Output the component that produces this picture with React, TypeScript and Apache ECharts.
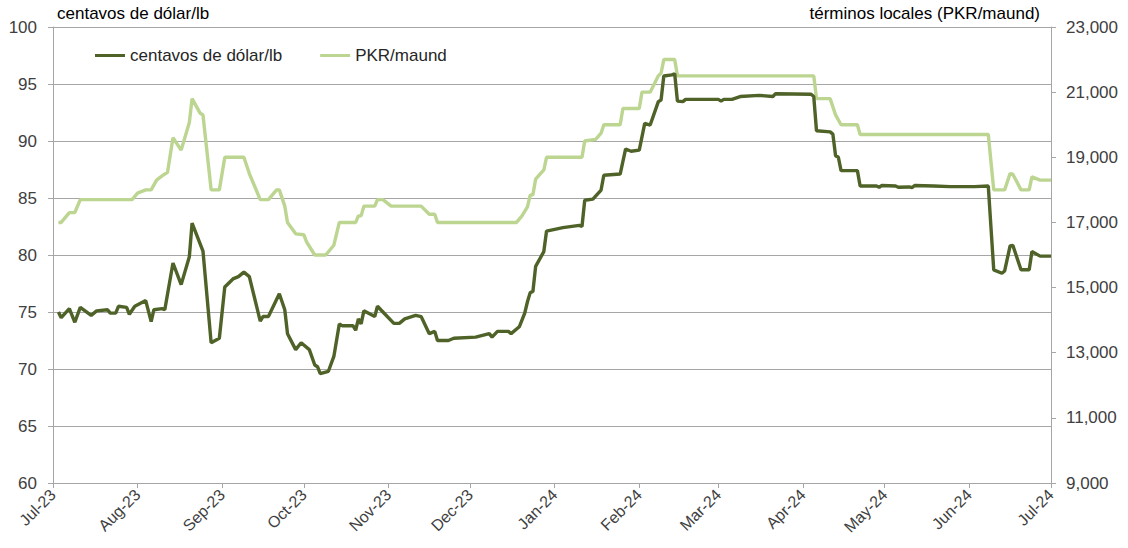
import React, { useEffect, useRef } from "react";
import * as echarts from "echarts";

const MONTHS = ["Jan", "Feb", "Mar", "Apr", "May", "Jun", "Jul", "Aug", "Sep", "Oct", "Nov", "Dec"];

const startDate = "2023-07-01";
const endDate = "2024-07-01";

const centsDates = [
  "2023-07-03", "2023-07-04", "2023-07-07", "2023-07-09", "2023-07-11", "2023-07-15", "2023-07-17",
  "2023-07-21", "2023-07-22", "2023-07-24", "2023-07-25", "2023-07-28", "2023-07-29", "2023-07-31",
  "2023-08-04", "2023-08-06", "2023-08-07", "2023-08-10", "2023-08-11", "2023-08-14", "2023-08-17",
  "2023-08-20", "2023-08-21", "2023-08-25", "2023-08-28", "2023-08-31", "2023-09-02", "2023-09-05",
  "2023-09-07", "2023-09-09", "2023-09-11", "2023-09-15", "2023-09-16", "2023-09-18", "2023-09-22",
  "2023-09-24", "2023-09-25", "2023-09-28", "2023-09-30", "2023-10-03", "2023-10-05", "2023-10-06",
  "2023-10-07", "2023-10-10", "2023-10-12", "2023-10-14", "2023-10-15", "2023-10-19", "2023-10-20",
  "2023-10-21", "2023-10-22", "2023-10-23", "2023-10-27", "2023-10-28", "2023-10-30", "2023-11-03",
  "2023-11-05", "2023-11-07", "2023-11-11", "2023-11-13", "2023-11-16", "2023-11-18", "2023-11-19",
  "2023-11-23", "2023-11-25", "2023-12-03", "2023-12-08", "2023-12-09", "2023-12-11", "2023-12-15",
  "2023-12-16", "2023-12-19", "2023-12-21", "2023-12-22", "2023-12-23", "2023-12-24", "2023-12-25",
  "2023-12-28", "2023-12-29", "2024-01-04", "2024-01-10", "2024-01-11", "2024-01-12", "2024-01-15",
  "2024-01-18", "2024-01-19", "2024-01-25", "2024-01-27", "2024-01-29", "2024-02-01", "2024-02-03",
  "2024-02-05", "2024-02-08", "2024-02-09", "2024-02-10", "2024-02-13", "2024-02-14", "2024-02-15",
  "2024-02-17", "2024-02-18", "2024-03-01", "2024-03-02", "2024-03-03", "2024-03-06", "2024-03-09",
  "2024-03-16", "2024-03-21", "2024-03-22", "2024-04-04", "2024-04-05", "2024-04-06", "2024-04-11",
  "2024-04-12", "2024-04-13", "2024-04-14", "2024-04-15", "2024-04-21", "2024-04-22", "2024-04-28",
  "2024-04-29", "2024-04-30", "2024-05-05", "2024-05-06", "2024-05-10", "2024-05-11", "2024-05-12",
  "2024-05-19", "2024-05-25", "2024-06-03", "2024-06-08", "2024-06-10", "2024-06-13", "2024-06-14",
  "2024-06-16", "2024-06-17", "2024-06-20", "2024-06-23", "2024-06-24", "2024-06-27", "2024-07-01",
];
const centsValues = [
  75.0, 74.5, 75.3, 74.1, 75.4, 74.7, 75.1,
  75.2, 74.9, 74.9, 75.5, 75.4, 74.8, 75.5,
  76.0, 74.15, 75.2, 75.3, 75.2, 79.3, 77.4,
  79.85, 82.8, 80.35, 72.3, 72.7, 77.2, 77.9,
  78.1, 78.5, 78.1, 74.2, 74.6, 74.6, 76.6,
  75.2, 73.1, 71.7, 72.3, 71.7, 70.35, 70.2,
  69.6, 69.8, 71.1, 73.95, 73.8, 73.8, 73.4,
  74.4, 73.95, 75.1, 74.6, 75.5, 75.0, 74.0,
  74.0, 74.4, 74.7, 74.6, 73.1, 73.3, 72.5,
  72.5, 72.7, 72.8, 73.1, 72.8, 73.3, 73.3,
  73.1, 73.7, 74.9, 75.9, 76.7, 76.8, 79.0,
  80.3, 82.1, 82.4, 82.6, 82.5, 84.8, 84.9,
  85.7, 87.0, 87.1, 89.3, 89.1, 89.2, 91.55,
  91.4, 93.45, 93.6, 95.7, 95.8, 95.9, 93.5,
  93.45, 93.65, 93.65, 93.5, 93.65, 93.65, 93.9,
  94.0, 93.9, 94.15, 94.1, 93.9, 90.9, 90.8,
  90.6, 88.7, 88.6, 87.4, 87.4, 86.05, 86.05,
  85.94, 86.1, 86.05, 85.94, 85.97, 85.9, 86.1,
  86.05, 86.0, 86.0, 86.05, 78.7, 78.4, 78.6,
  80.8, 80.85, 78.7, 78.7, 80.3, 79.9, 79.9,
];

const pkrDates = [
  "2023-07-03", "2023-07-04", "2023-07-07", "2023-07-09", "2023-07-11", "2023-07-30", "2023-08-01",
  "2023-08-04", "2023-08-06", "2023-08-08", "2023-08-10", "2023-08-12", "2023-08-14", "2023-08-17",
  "2023-08-20", "2023-08-21", "2023-08-24", "2023-08-25", "2023-08-28", "2023-08-31", "2023-09-02",
  "2023-09-09", "2023-09-11", "2023-09-15", "2023-09-18", "2023-09-21", "2023-09-22", "2023-09-24",
  "2023-09-25", "2023-09-28", "2023-10-01", "2023-10-02", "2023-10-05", "2023-10-09", "2023-10-12",
  "2023-10-14", "2023-10-20", "2023-10-21", "2023-10-22", "2023-10-23", "2023-10-27", "2023-10-28",
  "2023-10-30", "2023-11-02", "2023-11-13", "2023-11-16", "2023-11-18", "2023-11-19", "2023-12-18",
  "2023-12-20", "2023-12-22", "2023-12-23", "2023-12-24", "2023-12-25", "2023-12-28", "2023-12-29",
  "2024-01-11", "2024-01-12", "2024-01-16", "2024-01-18", "2024-01-19", "2024-01-25", "2024-01-26",
  "2024-02-01", "2024-02-02", "2024-02-05", "2024-02-08", "2024-02-09", "2024-02-10", "2024-02-14",
  "2024-02-15", "2024-04-05", "2024-04-06", "2024-04-11", "2024-04-13", "2024-04-15", "2024-04-21",
  "2024-04-22", "2024-06-08", "2024-06-10", "2024-06-14", "2024-06-16", "2024-06-17", "2024-06-20",
  "2024-06-23", "2024-06-24", "2024-06-27", "2024-07-01",
];
const pkrValues = [
  17000, 17000, 17300, 17300, 17700, 17700, 17900,
  18000, 18000, 18300, 18430, 18540, 19600, 19220,
  20070, 20800, 20350, 20300, 18000, 18000, 19000,
  19000, 18500, 17700, 17700, 18000, 18000, 17500,
  17000, 16650, 16620, 16400, 16000, 16000, 16300,
  17000, 17000, 17200, 17200, 17500, 17500, 17700,
  17700, 17500, 17500, 17250, 17250, 17000, 17000,
  17200, 17480, 17840, 17850, 18330, 18610, 19000,
  19000, 19500, 19550, 19740, 20000, 20000, 20500,
  20500, 21000, 21000, 21500, 21580, 22000, 22000,
  21500, 21500, 20800, 20800, 20300, 20000, 20000,
  19700, 19700, 18000, 18000, 18500, 18480, 18000,
  18000, 18400, 18300, 18300,
];

const leftMin = 60;
const leftMax = 100;
const leftStep = 5;
const rightTicks = [9000, 11000, 13000, 15000, 17000, 19000, 21000, 23000];

const seriesNames = ["centavos de dólar/lb", "PKR/maund"];
const leftTitle = "centavos de dólar/lb";
const rightTitle = "términos locales (PKR/maund)";

const FONT = "'Liberation Sans', Arial, sans-serif";

function buildCategories(): string[] {
  const out: string[] = [];
  const d = new Date(startDate + "T00:00:00Z");
  const end = new Date(endDate + "T00:00:00Z");
  while (d.getTime() <= end.getTime()) {
    out.push(d.toISOString().slice(0, 10));
    d.setUTCDate(d.getUTCDate() + 1);
  }
  return out;
}

export default function App() {
  const ref = useRef<HTMLDivElement>(null);

  useEffect(() => {
    document.body.style.margin = "0";
    if (!ref.current) return;
    const chart = echarts.init(ref.current, undefined, { renderer: "svg" });
    const categories = buildCategories();
    const idx = (s: string) => categories.indexOf(s);
    const isMonthStart = (_i: number, v: string) => v.slice(8, 10) === "01";

    const centsData = centsDates.map((d, i) => [idx(d), centsValues[i]]);
    const pkrData = pkrDates.map((d, i) => [idx(d), pkrValues[i]]);

    const gridColor = "#a6a6a6";
    const labelColor = "#404040";

    chart.setOption({
      animation: false,
      textStyle: { fontFamily: FONT },
      grid: { left: 53, right: 77, top: 27, bottom: 65, containLabel: false },
      legend: {
        left: 90,
        top: 42,
        icon: "rect",
        itemWidth: 30,
        itemHeight: 3,
        itemGap: 38,
        textStyle: { fontSize: 17, color: "#262626", fontFamily: FONT },
        data: seriesNames,
      },
      graphic: [
        {
          type: "text",
          left: 57,
          top: 5,
          style: { text: leftTitle, fontSize: 17, fill: "#000", fontFamily: FONT },
        },
        {
          type: "text",
          right: 88,
          top: 5,
          style: { text: rightTitle, fontSize: 17, fill: "#000", fontFamily: FONT },
        },
      ],
      xAxis: {
        type: "category",
        data: categories,
        boundaryGap: false,
        axisLine: { lineStyle: { color: gridColor, width: 1 } },
        axisTick: { show: true, interval: isMonthStart, length: 5, lineStyle: { color: gridColor } },
        axisLabel: {
          interval: isMonthStart,
          rotate: 45,
          margin: 9,
          fontSize: 16,
          color: labelColor,
          fontFamily: FONT,
          formatter: (v: string) => {
            const m = parseInt(v.slice(5, 7), 10) - 1;
            return MONTHS[m] + "-" + v.slice(2, 4);
          },
        },
        splitLine: { show: false },
      },
      yAxis: [
        {
          type: "value",
          position: "left",
          min: leftMin,
          max: leftMax,
          interval: leftStep,
          axisLine: { show: true, lineStyle: { color: gridColor } },
          axisTick: { show: true, length: 5, lineStyle: { color: gridColor } },
          axisLabel: { fontSize: 17, color: labelColor, margin: 16, fontFamily: FONT },
          splitLine: { show: true, lineStyle: { color: gridColor, width: 1 } },
        },
        {
          type: "value",
          position: "right",
          min: rightTicks[0],
          max: rightTicks[rightTicks.length - 1],
          axisLine: { show: true, lineStyle: { color: gridColor } },
          axisTick: { show: true, length: 5, customValues: rightTicks, lineStyle: { color: gridColor } },
          axisLabel: {
            customValues: rightTicks,
            fontSize: 17,
            color: labelColor,
            margin: 15,
            fontFamily: FONT,
            formatter: (v: number) => v.toLocaleString("en-US"),
          },
          splitLine: { show: false },
        },
      ],
      series: [
        {
          name: seriesNames[0],
          type: "line",
          yAxisIndex: 0,
          data: centsData,
          showSymbol: false,
          symbol: "none",
          connectNulls: true,
          lineStyle: { color: "#4f6228", width: 3.4 },
          itemStyle: { color: "#4f6228" },
          z: 3,
        },
        {
          name: seriesNames[1],
          type: "line",
          yAxisIndex: 1,
          data: pkrData,
          showSymbol: false,
          symbol: "none",
          connectNulls: true,
          lineStyle: { color: "#bcd591", width: 3.4 },
          itemStyle: { color: "#bcd591" },
          z: 2,
        },
      ],
    });

    return () => chart.dispose();
  }, []);

  return <div ref={ref} style={{ width: 1128, height: 548 }} />;
}
